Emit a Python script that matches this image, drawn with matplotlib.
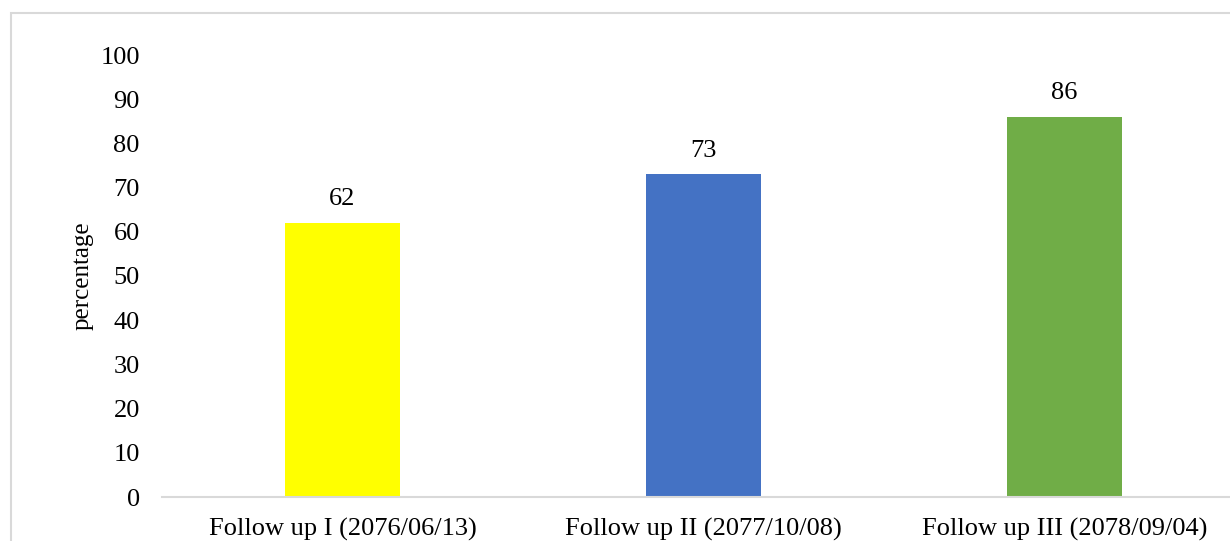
import matplotlib
matplotlib.use("Agg")
import matplotlib.pyplot as plt
from matplotlib.patches import Rectangle

categories = ["Follow up I (2076/06/13)", "Follow up II (2077/10/08)", "Follow up III (2078/09/04)"]
values = [62, 73, 86]
colors = ["#FFFF00", "#4472C4", "#70AD47"]
yticks = [0, 10, 20, 30, 40, 50, 60, 70, 80, 90, 100]

plt.rcParams["font.family"] = ["Liberation Serif", "DejaVu Serif"]

W, H = 1230, 541
fig = plt.figure(figsize=(W / 100, H / 100), dpi=100)

# outer chart frame (runs off the right and bottom of the canvas)
fig.patches.append(Rectangle((11 / W, -0.1), 1.2, 1 - 13 / H + 0.1,
                             transform=fig.transFigure, fill=False,
                             edgecolor="#D9D9D9", linewidth=1.5))

ax = fig.add_axes([162 / W, 1 - 497 / H, (3 * 361) / W, (497 - 55) / H])
x = range(len(categories))
ax.bar(x, values, width=0.316, color=colors)
ax.set_xlim(-0.5, 2.5)
ax.set_ylim(0, 100)
ax.set_yticks(yticks)
ax.set_xticks(list(x))
ax.set_xticklabels(categories)
ax.tick_params(axis="both", length=0, labelsize=19, colors="black")
ax.tick_params(axis="y", pad=16)
ax.tick_params(axis="x", pad=15)
for s in ["top", "right", "left"]:
    ax.spines[s].set_visible(False)
ax.spines["bottom"].set_color("#D9D9D9")
ax.spines["bottom"].set_linewidth(1.5)
ax.set_ylabel("percentage", fontsize=18, labelpad=5)

for xi, v in zip(x, values):
    ax.annotate(str(v), (xi, v), xytext=(0, 9), textcoords="offset points",
                ha="center", va="bottom", fontsize=19)

fig.savefig("out.png", dpi=100)
